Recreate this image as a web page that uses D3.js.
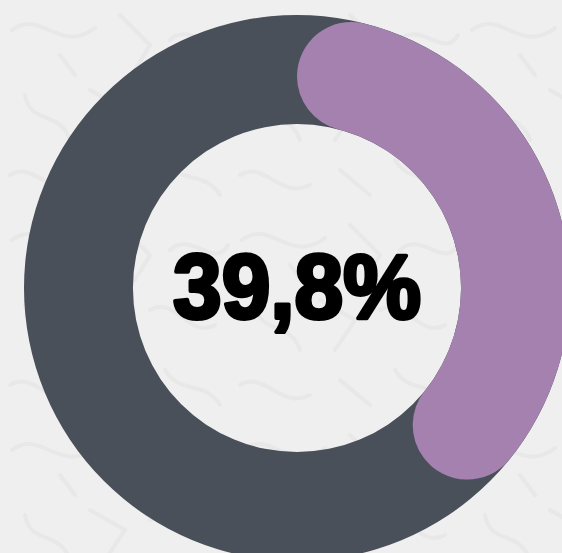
<!DOCTYPE html>
<html>
<head>
<meta charset="utf-8">
<script src="https://cdn.jsdelivr.net/npm/d3@7"></script>
<style>
  html, body { margin: 0; padding: 0; background: #efefef; overflow: hidden; }
  svg { display: block; }
</style>
</head>
<body>
<svg id="vis" width="562" height="553"></svg>
<script>
// share shown in the ring
const categories = ["share", "rest"];
const values = [39.8, 60.2];
const label = "39,8%";

const width = 562, height = 553;
const cx = 297, cy = 288;
const outerR = 273, innerR = 164;

const svg = d3.select("svg#vis");

// faint scribble texture in the background
const defs = svg.append("defs");
const pat = defs.append("pattern")
  .attr("id", "tex")
  .attr("patternUnits", "userSpaceOnUse")
  .attr("width", 230)
  .attr("height", 210);
pat.append("rect").attr("width", 230).attr("height", 210).attr("fill", "#efefef");
const scribbles = [
  "M12,30 C40,8 60,55 95,28",
  "M120,15 L150,45 L135,70",
  "M170,40 C190,20 215,60 228,35",
  "M25,95 C30,125 60,110 70,140",
  "M90,90 L125,110 L105,140",
  "M150,100 C175,85 190,130 215,115",
  "M10,175 C35,160 50,200 80,185",
  "M110,170 L140,195",
  "M165,160 C180,185 205,170 220,195",
  "M60,55 L75,75"
];
pat.selectAll("path")
  .data(scribbles)
  .enter()
  .append("path")
  .attr("d", d => d)
  .attr("fill", "none")
  .attr("stroke", "#e8e8e8")
  .attr("stroke-width", 4)
  .attr("stroke-linecap", "round");

svg.append("rect")
  .attr("width", width)
  .attr("height", height)
  .attr("fill", "url(#tex)");

const g = svg.append("g").attr("transform", "translate(" + cx + "," + cy + ")");

const pie = d3.pie().sort(null).value(d => d);
const arcs = pie(values);

// full background ring
const ring = d3.arc().innerRadius(innerR).outerRadius(outerR);
g.append("path")
  .attr("d", ring({ startAngle: 0, endAngle: 2 * Math.PI }))
  .attr("fill", "#4a5059");

// highlighted share with rounded ends
const arc = d3.arc()
  .innerRadius(innerR)
  .outerRadius(outerR)
  .cornerRadius((outerR - innerR) / 2);

g.selectAll("path.share")
  .data(arcs.filter((d, i) => categories[i] === "share"))
  .enter()
  .append("path")
  .attr("class", "share")
  .attr("d", arc)
  .attr("fill", "#a581b0");

// center label
g.append("text")
  .attr("x", 0)
  .attr("y", 30)
  .attr("text-anchor", "middle")
  .attr("font-family", "'Liberation Sans', Arial, sans-serif")
  .attr("font-weight", "bold")
  .attr("font-size", 90)
  .attr("textLength", 248)
  .attr("lengthAdjust", "spacingAndGlyphs")
  .attr("fill", "#000")
  .attr("stroke", "#000")
  .attr("stroke-width", 4)
  .attr("stroke-linejoin", "round")
  .text(label);
</script>
</body>
</html>
